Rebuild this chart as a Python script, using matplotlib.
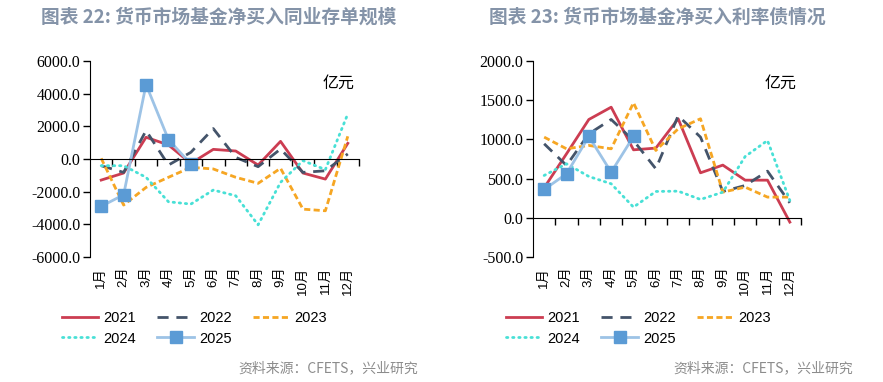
import matplotlib
matplotlib.use("Agg")
import numpy as np
import matplotlib.pyplot as plt

plt.rcParams['font.family'] = ['Liberation Sans', 'Noto Sans CJK SC']

months = ['1月', '2月', '3月', '4月', '5月', '6月', '7月', '8月', '9月', '10月', '11月', '12月']
years = ['2021', '2022', '2023', '2024', '2025']

# 图表22: 同业存单 (亿元)
cd_2021 = [-1290, -860, 1330, 860, -270, 590, 490, -370, 1080, -860, -1230, 960]
cd_2022 = [-410, -820, 1740, -370, 410, 1860, 100, -470, 610, -820, -720, 310]
cd_2023 = [40, -2820, -1740, -1120, -510, -610, -1120, -1490, -570, -3070, -3170, 1390]
cd_2024 = [-410, -410, -1120, -2620, -2760, -1900, -2250, -4030, -1430, -100, -650, 2760]
cd_2025 = [-2900, -2190, 4560, 1190, -310]

# 图表23: 利率债 (亿元)
rb_2021 = [383, 816, 1254, 1411, 867, 889, 1263, 574, 672, 480, 480, -55]
rb_2022 = [944, 668, 1071, 1254, 986, 625, 1301, 1029, 336, 412, 595, 191]
rb_2023 = [1029, 880, 923, 880, 1467, 859, 1135, 1263, 327, 391, 264, 264]
rb_2024 = [540, 689, 527, 434, 136, 336, 340, 234, 327, 782, 986, 221]
rb_2025 = [361, 561, 1037, 582, 1037]

titles = ['图表 22: 货币市场基金净买入同业存单规模', '图表 23: 货币市场基金净买入利率债情况']

styles = [
    dict(color='#CC3D52', lw=2.0, ls='-'),
    dict(color='#44546A', lw=2.0, ls=(0, (4, 2.8))),
    dict(color='#F6A623', lw=2.0, ls=(0, (2.2, 1.2))),
    dict(color='#48E0D6', lw=2.0, ls=(0, (0.5, 1.7)), dash_capstyle='round'),
    dict(color='#9DC3E6', lw=2.0, ls='-', marker='s', markersize=8,
         markerfacecolor='#5B9BD5', markeredgecolor='#5B9BD5'),
]

fig = plt.figure(figsize=(8.83, 3.82), dpi=100)
W, H = 883., 382.
# axes boxes in pixels: left, right, top, bottom
boxes = [(90, 359, 61, 257), (533, 801, 61, 257)]
ylims = [(-6000, 6000), (-500, 2000)]
ysteps = [2000, 500]
datasets = [[cd_2021, cd_2022, cd_2023, cd_2024, cd_2025],
            [rb_2021, rb_2022, rb_2023, rb_2024, rb_2025]]
title_x = [219, 657]
legend_x = [62, 506]
src_x = [418, 853]

for k in range(2):
    l, r, t, b = boxes[k]
    ax = fig.add_axes([l / W, 1 - b / H, (r - l) / W, (b - t) / H])
    x = np.arange(12)
    for i, vals in enumerate(datasets[k]):
        ax.plot(x[:len(vals)], vals, label=years[i], **styles[i])

    ax.set_xlim(-0.5, 11.5)
    ax.set_ylim(*ylims[k])
    ax.set_yticks(np.arange(ylims[k][0], ylims[k][1] + 1, ysteps[k]))
    ax.yaxis.set_major_formatter(matplotlib.ticker.FormatStrFormatter('%.1f'))
    for lab in ax.get_yticklabels():
        lab.set_family('Liberation Serif')
        lab.set_fontsize(11.5)
    ax.tick_params(axis='y', length=5, width=1, pad=2)

    ax.spines['top'].set_visible(False)
    ax.spines['right'].set_visible(False)
    ax.spines['bottom'].set_position(('data', 0))
    ax.set_xticks(np.arange(0.5, 12, 1))
    ax.set_xticklabels([])
    ax.tick_params(axis='x', length=5, width=1, direction='out')

    for j, m in enumerate(months):
        ax.text(j, -0.05, m, transform=ax.get_xaxis_transform(), rotation=90,
                ha='center', va='top', fontsize=9.5)

    ax.text(0.985, 0.93, '亿元', transform=ax.transAxes, ha='right', va='top',
            fontsize=11.5, family=['Noto Sans CJK SC'])

    fig.text(title_x[k] / W, 1 - 17 / H, titles[k], ha='center', va='center',
             fontsize=13.5, fontweight='bold', color='#8493A8',
             family=['Noto Sans CJK SC'])

    # legend filled row by row: 2021 2022 2023 / 2024 2025
    handles, labels = ax.get_legend_handles_labels()
    order = [0, 3, 1, 4, 2]
    fig.legend([handles[i] for i in order], [labels[i] for i in order],
               loc='upper left', bbox_to_anchor=(legend_x[k] / W, 1 - 311 / H),
               ncol=3, frameon=False, fontsize=10.5, handlelength=2.5,
               handletextpad=0.35, columnspacing=1.45, labelspacing=0.45,
               borderaxespad=0, borderpad=0)

    fig.text(src_x[k] / W, 1 - 368 / H, '资料来源：CFETS，兴业研究', ha='right',
             va='center', fontsize=10, color='#8C8C8C', family=['Noto Sans CJK SC'])

fig.savefig('out.png', dpi=100)
